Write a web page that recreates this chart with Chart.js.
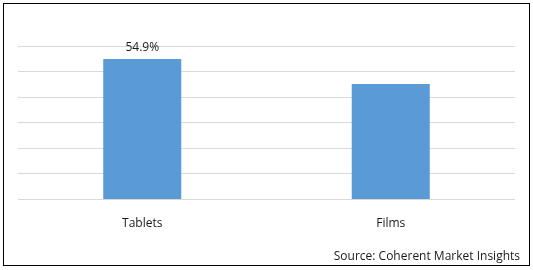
<!DOCTYPE html>
<html>
<head>
<meta charset="utf-8">
<script src="https://cdn.jsdelivr.net/npm/chart.js@4/dist/chart.umd.min.js"></script>
<style>
  html, body { margin: 0; padding: 0; background: #fff; }
  #wrap { position: relative; width: 533px; height: 270px; }
</style>
</head>
<body>
<div id="wrap"><canvas id="chart"></canvas></div>
<script>
// data
const categories = ['Tablets', 'Films'];
const shareValues = [54.9, 45.1];
const valueLabels = ['54.9%', ''];
const sourceText = 'Source: Coherent Market Insights';

const FONT = '"Open Sans", sans-serif';

// frame, value label and source line
const decorPlugin = {
  id: 'decor',
  afterDraw(chart) {
    const ctx = chart.ctx;
    ctx.save();
    ctx.strokeStyle = '#000';
    ctx.lineWidth = 1;
    ctx.strokeRect(3.5, 3.5, 526, 262);

    ctx.fillStyle = '#1a1a1a';
    ctx.font = '12px ' + FONT;
    ctx.textAlign = 'center';
    ctx.textBaseline = 'middle';
    const meta = chart.getDatasetMeta(0);
    meta.data.forEach((bar, i) => {
      if (!valueLabels[i]) return;
      ctx.fillText(valueLabels[i], bar.x, bar.y - 11);
    });

    ctx.textAlign = 'right';
    ctx.fillText(sourceText, 520, 257);
    ctx.restore();
  }
};

new Chart(document.getElementById('chart'), {
  type: 'bar',
  data: {
    labels: categories,
    datasets: [{
      data: shareValues,
      backgroundColor: '#5b9bd5',
      borderWidth: 0,
      categoryPercentage: 1,
      barPercentage: 0.314,
    }],
  },
  options: {
    responsive: true,
    maintainAspectRatio: false,
    animation: false,
    layout: { padding: { left: 18, right: 18, top: 46, bottom: 0 } },
    plugins: {
      legend: { display: false },
      tooltip: { enabled: false },
    },
    scales: {
      x: {
        grid: { display: false },
        border: { display: false },
        ticks: { color: '#1a1a1a', font: { family: FONT, size: 12 }, padding: 9 },
        afterFit(scale) { scale.height = 70.5; },
      },
      y: {
        min: 0,
        max: 60,
        ticks: { display: false, stepSize: 10 },
        border: { display: false },
        grid: { color: '#d9d9d9', drawTicks: false },
        afterFit(scale) { scale.width = 0; },
      },
    },
  },
  plugins: [decorPlugin],
});
</script>
</body>
</html>
